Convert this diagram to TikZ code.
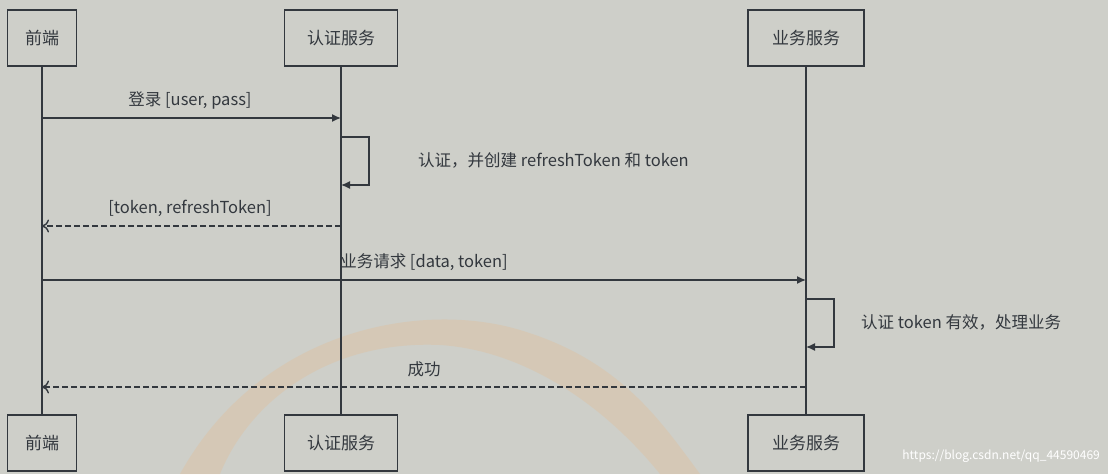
\documentclass[tikz,border=0pt]{standalone}
\usepackage{fontspec}
\setmainfont{Noto Sans CJK SC}
\usetikzlibrary{arrows.meta}
\definecolor{bg}{RGB}{206,207,201}
\definecolor{ink}{RGB}{51,56,62}
\begin{document}
\begin{tikzpicture}[x=1pt,y=-1pt,
  actor/.style={draw=ink,line width=1.4pt,fill=bg,minimum width=#1,minimum height=56pt,inner sep=0pt,font=\fontsize{17}{19}\selectfont,text=ink},
  life/.style={draw=ink,line width=1.4pt},
  msg/.style={draw=ink,line width=1.4pt,-{Latex[length=9pt,width=8pt]}},
  ret/.style={draw=ink,line width=1.4pt,dashed,dash pattern=on 6pt off 3pt,-{To[length=7pt,width=13pt,line width=1.4pt]}},
  lbl/.style={font=\fontsize{16.5}{19}\selectfont,text=ink,inner sep=0pt}]
\fill[bg] (0,0) rectangle (1108,474);
\begin{scope}[opacity=0.15]
\fill[orange!70!white] (180,474) .. controls (260,330) and (420,300) .. (520,330) .. controls (620,360) and (660,420) .. (700,474) -- (660,474) .. controls (600,400) and (520,350) .. (440,345) .. controls (330,340) and (250,400) .. (220,474) -- cycle;
\end{scope}
\node[actor=69pt] (f1) at (42,38) {前端};
\node[actor=113pt] (a1) at (341,38) {认证服务};
\node[actor=116pt] (b1) at (806,38) {业务服务};
\node[actor=69pt] (f2) at (42,443) {前端};
\node[actor=113pt] (a2) at (341,443) {认证服务};
\node[actor=116pt] (b2) at (806,443) {业务服务};
\draw[life] (f1) -- (f2);
\draw[life] (a1) -- (a2);
\draw[life] (b1) -- (b2);
\coordinate (m1s) at (f1.south |- 0,118); \coordinate (m1e) at (a1.south |- 0,118);
\draw[msg] (m1s) -- (m1e);
\node[lbl] (l1) at (190,100) {登录 [user, pass]};
\coordinate (s1a) at (a1.south |- 0,137); \coordinate (s1b) at (a1.south |- 0,185);
\draw[msg] (s1a) -- ++(28,0) |- (s1b);
\node[lbl,anchor=west] (l2) at (418,160) {认证，并创建 refreshToken 和 token};
\coordinate (m2s) at (a1.south |- 0,226); \coordinate (m2e) at (f1.south |- 0,226);
\draw[ret] (m2s) -- (m2e);
\node[lbl] (l3) at (190,208) {[token, refreshToken]};
\coordinate (m3s) at (f1.south |- 0,280); \coordinate (m3e) at (b1.south |- 0,280);
\draw[msg] (m3s) -- (m3e);
\node[lbl] (l4) at (424,262) {业务请求 [data, token]};
\coordinate (s2a) at (b1.south |- 0,299); \coordinate (s2b) at (b1.south |- 0,347);
\draw[msg] (s2a) -- ++(28,0) |- (s2b);
\node[lbl,anchor=west] (l5) at (861,322) {认证 token 有效，处理业务};
\coordinate (m4s) at (b1.south |- 0,387); \coordinate (m4e) at (f1.south |- 0,387);
\draw[ret] (m4s) -- (m4e);
\node[lbl] (l6) at (424,369) {成功};
\node[anchor=east,text=white,font=\fontsize{12}{14}\selectfont,inner sep=0pt] (wm) at (1100,456) {https://blog.csdn.net/qq\_44590469};
\end{tikzpicture}
\end{document}
